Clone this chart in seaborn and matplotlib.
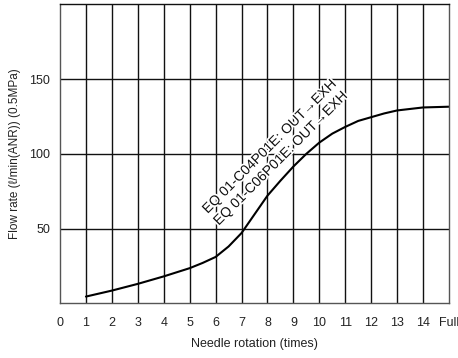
import matplotlib
matplotlib.use("Agg")
import matplotlib.pyplot as plt
import matplotlib.patheffects as pe
import seaborn as sns
import pandas as pd

# Flow-rate characteristic of the needle valve
rotation = [1, 2, 3, 4, 5, 5.5, 6, 6.5, 7, 7.5, 8, 8.5, 9, 9.5, 10, 10.5, 11, 11.5, 12, 12.5, 13, 14, 15]
flow = [4.5, 8.5, 13, 18, 23.5, 27, 31, 38, 47, 59.5, 72, 82, 91.5, 100, 107.5, 113.5, 118, 122, 124.5, 127, 129, 131, 131.5]

x_ticks = list(range(16))
x_tick_labels = [str(i) for i in range(15)] + ["Full"]
y_ticks = [50, 100, 150]

labels = ["EQ 01-C04P01E: OUT→EXH", "EQ 01-C06P01E: OUT→EXH"]
label_pos = [(5.69, 59.7), (6.12, 51.8)]

sns.set_theme(style="white")
plt.rcParams["font.family"] = ["Liberation Sans", "DejaVu Sans"]

fig = plt.figure(figsize=(4.58, 3.58), dpi=100)
ax = fig.add_axes([60 / 458, 54.7 / 358, 389 / 458, 299 / 358])

df = pd.DataFrame({"rotation": rotation, "flow": flow})
sns.lineplot(data=df, x="rotation", y="flow", ax=ax, color="black", linewidth=1.5)

ax.set_xlim(0, 15)
ax.set_ylim(0, 200)
ax.set_xticks(x_ticks)
ax.set_xticklabels(x_tick_labels)
ax.set_yticks(y_ticks)

for xv in range(1, 15):
    ax.axvline(xv, color="#111111", linewidth=1.0, zorder=1)
for yv in y_ticks:
    ax.axhline(yv, color="#111111", linewidth=1.0, zorder=1)

for s in ax.spines.values():
    s.set_color("#555555")
    s.set_linewidth(1.0)
ax.spines["top"].set_color("#111111")

ax.tick_params(axis="y", length=0, labelsize=9, colors="#222222", pad=7)
ax.tick_params(axis="x", length=0, labelsize=9, colors="#222222", pad=10)
ax.set_xlabel("Needle rotation (times)", fontsize=9, color="#222222", labelpad=6)
ax.set_ylabel("Flow rate (ℓ/min(ANR)) (0.5MPa)", fontsize=8.5, color="#222222", labelpad=6)

for txt, (tx, ty) in zip(labels, label_pos):
    ax.text(tx, ty, txt, rotation=45, rotation_mode="anchor", ha="left", va="baseline",
            fontsize=10, color="#111111", zorder=3,
            path_effects=[pe.withStroke(linewidth=2.5, foreground="white")])

fig.savefig("out.png", dpi=100)
